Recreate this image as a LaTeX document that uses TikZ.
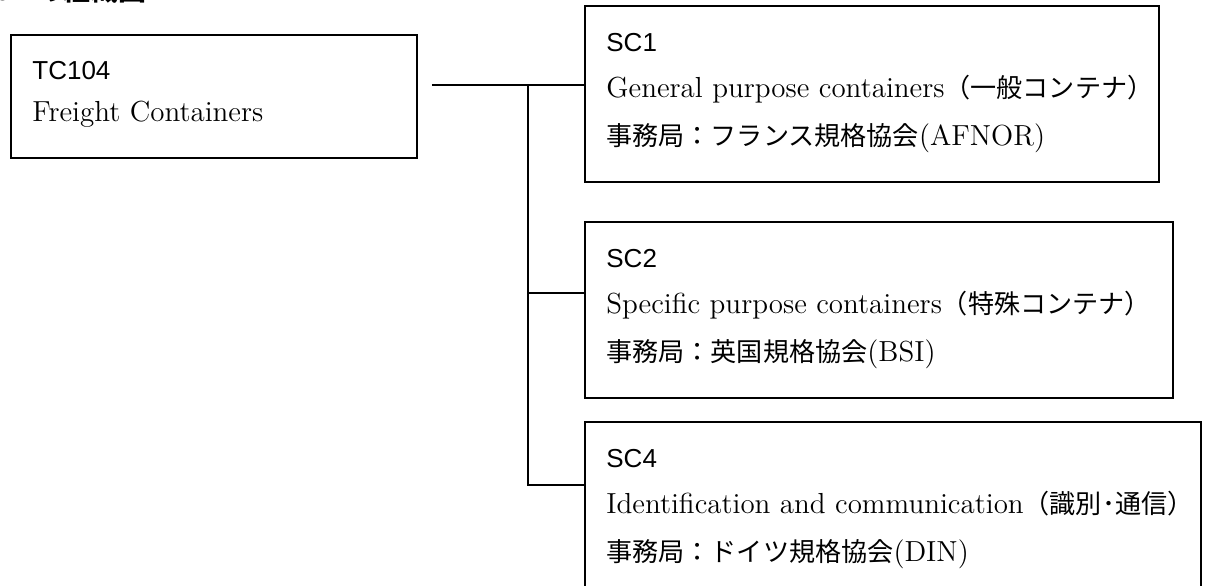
\documentclass[tikz,border=0pt]{standalone}
\usepackage{fontspec}
\setsansfont{Liberation Sans}
\newfontfamily\jpfont[Scale=0.9]{Noto Sans CJK JP}
\usetikzlibrary{calc}

\begin{document}
\begin{tikzpicture}[x = 0.5pt, y = -0.5pt,
            box/.style = {draw, line width = 0.9pt, anchor = north west, inner sep = 0pt},
            link/.style = {line width = 0.8pt},
            txt/.style = {anchor = base west, inner sep = 0pt, font = \fontsize{14.5}{17}\selectfont},
            tag/.style = {txt, font = \fontsize{13}{16}\selectfont\sffamily}]
            \useasboundingbox (0,0) rectangle (1205,585);
            % heading, cut off by the top edge
            \node[anchor = base east, inner sep = 0pt, font = \fontsize{15.5}{17}\selectfont\jpfont\bfseries] (head) at (147,0) {TC104 の組織図};
            % boxes
            \node[box, minimum width = 203pt, minimum height = 61.5pt] (tc) at (10,34) {};
            \node[box, minimum width = 287pt, minimum height = 88pt] (scA) at (584,5) {};
            \node[box, minimum width = 294pt, minimum height = 88pt] (scB) at (584,221) {};
            \node[box, minimum width = 308pt, minimum height = 90pt] (scD) at (584,421) {};
            % texts
            \node[tag] (tcName) at ($(tc.north west)+(22,45)$) {TC104};
            \node[txt] (tcTitle) at ($(tc.north west)+(22,87)$) {Freight Containers};
            \node[tag] (scAName) at ($(scA.north west)+(22,46)$) {SC1};
            \node[txt] (scATitle) at ($(scA.north west)+(22,92)$) {General purpose containers{\jpfont （一般コンテナ）}};
            \node[txt] (scAOffice) at ($(scA.north west)+(22,140)$) {{\jpfont 事務局：フランス規格協会}(AFNOR)};
            \node[tag] (scBName) at ($(scB.north west)+(22,46)$) {SC2};
            \node[txt] (scBTitle) at ($(scB.north west)+(22,92)$) {Specific purpose containers{\jpfont （特殊コンテナ）}};
            \node[txt] (scBOffice) at ($(scB.north west)+(22,140)$) {{\jpfont 事務局：英国規格協会}(BSI)};
            \node[tag] (scDName) at ($(scD.north west)+(22,46)$) {SC4};
            \node[txt] (scDTitle) at ($(scD.north west)+(22,92)$) {Identification and communication{\jpfont （識別･通信）}};
            \node[txt] (scDOffice) at ($(scD.north west)+(22,140)$) {{\jpfont 事務局：ドイツ規格協会}(DIN)};
            % connectors
            \coordinate (fork) at (528,85);
            \coordinate (jB) at (528,293);
            \coordinate (jD) at (528,485);
            \draw[link] ($(tc.east |- fork)+(14,0)$) -- (scA.west |- fork);
            \draw[link] (fork) -- (jD) -- (scD.west |- jD);
            \draw[link] (jB) -- (scB.west |- jB);
        \end{tikzpicture}
\end{document}
